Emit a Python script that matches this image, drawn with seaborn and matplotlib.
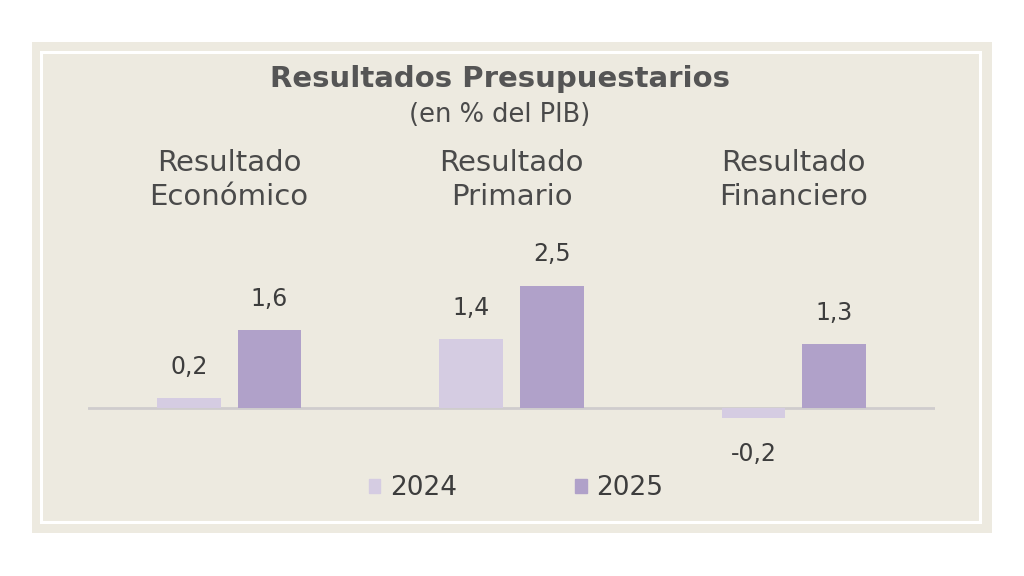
import matplotlib
matplotlib.use("Agg")
import matplotlib.pyplot as plt
import matplotlib.patches as mpatches
import seaborn as sns
import pandas as pd

categories = ["Resultado\nEconómico", "Resultado\nPrimario", "Resultado\nFinanciero"]
years = ["2024", "2025"]
values_2024 = [0.2, 1.4, -0.2]
values_2025 = [1.6, 2.5, 1.3]
title = "Resultados Presupuestarios"
subtitle = "(en % del PIB)"

colors = {"2024": "#d5cce2", "2025": "#b0a1c9"}
bg = "#edeae0"
txt = "#3d3d3d"

df = pd.DataFrame({
    "cat": categories * 2,
    "year": ["2024"] * 3 + ["2025"] * 3,
    "val": values_2024 + values_2025,
})

sns.set_theme(style="white")
plt.rcParams["font.family"] = ["DejaVu Sans"]

W, H = 1024, 576
fig = plt.figure(figsize=(W / 100, H / 100), dpi=100)
fig.patch.set_facecolor("white")


def fx(x):
    return x / W


def fy(y):
    return 1 - y / H


# beige panel and inner white frame
fig.add_artist(mpatches.Rectangle((fx(32), fy(533)), (992 - 32) / W, (533 - 42) / H,
                                  transform=fig.transFigure, facecolor=bg, edgecolor="none", zorder=0))
fig.add_artist(mpatches.Rectangle((fx(41), fy(522)), (980 - 41) / W, (522 - 52) / H,
                                  transform=fig.transFigure, facecolor="none", edgecolor="white",
                                  linewidth=2.2, zorder=1))

ax_top, ax_bot = 240, 440
base = 408
ppu = 49.0
ax = fig.add_axes([fx(88), fy(ax_bot), (935 - 88) / W, (ax_bot - ax_top) / H])
ax.set_facecolor("none")

sns.barplot(data=df, x="cat", y="val", hue="year", hue_order=years, order=categories,
            palette=colors, width=0.57, gap=0.21, ax=ax, saturation=1, edgecolor="none")

ax.set_xlim(-0.5, 2.5)
ax.set_ylim(-(ax_bot - base) / ppu, (base - ax_top) / ppu)
ax.axhline(0, color="#cfcccd", linewidth=2, zorder=0.5)
for s in ax.spines.values():
    s.set_visible(False)
ax.set_xticks([])
ax.set_yticks([])
ax.set_xlabel("")
ax.set_ylabel("")
leg = ax.get_legend()
if leg:
    leg.remove()

for cont in ax.containers:
    for bar in cont:
        h = bar.get_height()
        y0 = bar.get_y()
        val = y0 + h if y0 >= 0 else y0
        xc = bar.get_x() + bar.get_width() / 2
        label = f"{val:.1f}".replace(".", ",")
        off = 31 if val >= 0 else -36
        ax.annotate(label, (xc, val), xytext=(0, off * 0.72), textcoords="offset points",
                    ha="center", va="center", fontsize=17, color=txt)

# category labels
for i, c in enumerate(categories):
    xdisp = ax.transData.transform((i, 0))[0]
    fig.text(xdisp / W, fy(180), c, ha="center", va="center", fontsize=21,
             color="#4a4a4a", linespacing=1.28)

fig.text(fx(500), fy(79), title, ha="center", va="center", fontsize=21,
         fontweight="bold", color="#555555")
fig.text(fx(500), fy(115), subtitle, ha="center", va="center", fontsize=18.5, color="#4a4a4a")

handles = [mpatches.Patch(color=colors[y]) for y in years]
fig.legend(handles, years, loc="center", bbox_to_anchor=(fx(516), fy(488)), ncol=2,
           frameon=False, fontsize=19, handlelength=0.45, handleheight=0.45,
           handletextpad=0.35, columnspacing=4.5, labelcolor=txt)

fig.savefig("out.png", dpi=100, facecolor="white")
